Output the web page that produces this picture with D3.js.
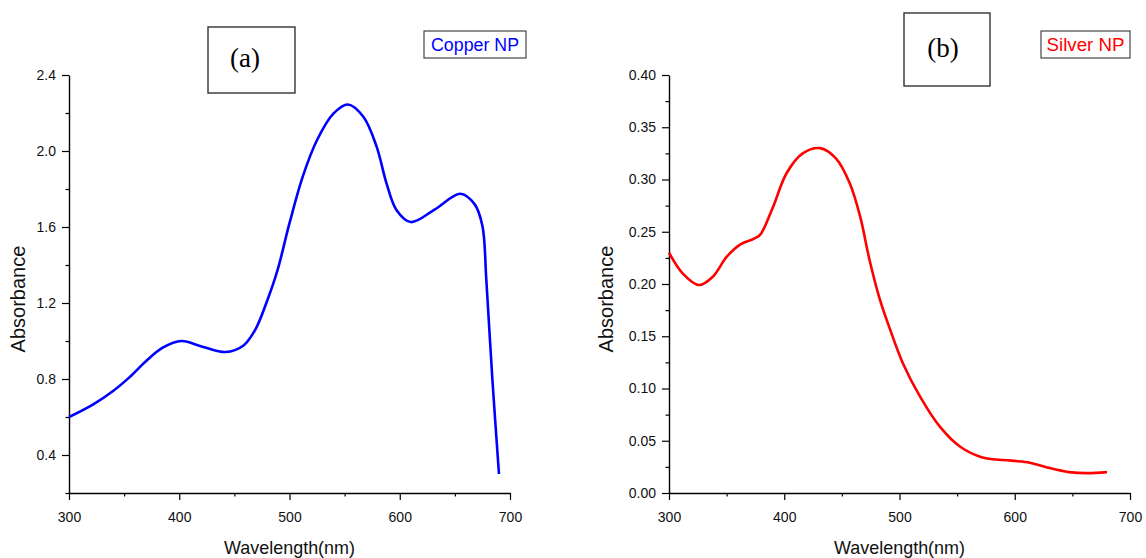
<!DOCTYPE html>
<html lang="en">
<head>
  <title>UV-vis absorbance</title>
  <script type="text/javascript" src="https://cdn.jsdelivr.net/npm/d3@7"></script>
  <style>
    body {
      margin: 0px;
      background: white;
    }
    svg {
      display: block;
      font-family: Arial, "Liberation Sans", sans-serif;
    }
  </style>
</head>
<body>
  <script type="text/javascript">
    // Data
    var cuWavelength = [300, 322, 340, 355, 370, 385, 402, 421, 442, 458, 469, 479, 489, 500, 512, 525, 540, 553, 567, 579, 588, 597, 610, 632, 655, 668, 675, 678.5, 684, 690];
    var cuAbsorbance = [0.60, 0.667, 0.737, 0.81, 0.895, 0.965, 1.00, 0.97, 0.942, 0.975, 1.06, 1.20, 1.37, 1.62, 1.865, 2.058, 2.198, 2.245, 2.18, 2.023, 1.83, 1.69, 1.626, 1.693, 1.775, 1.719, 1.605, 1.325, 0.80, 0.30];

    var agWavelength = [300, 312, 326, 338, 350, 362, 373, 379, 390, 402, 416, 431, 445, 457, 466, 474, 483, 492, 503, 518, 535, 553, 572, 597, 613, 628, 647, 663, 680];
    var agAbsorbance = [0.230, 0.210, 0.199, 0.207, 0.226, 0.238, 0.243, 0.247, 0.273, 0.306, 0.325, 0.330, 0.320, 0.296, 0.264, 0.223, 0.185, 0.156, 0.124, 0.092, 0.0635, 0.044, 0.034, 0.031, 0.029, 0.0245, 0.020, 0.019, 0.020];

    var cuTicks = [0.4, 0.8, 1.2, 1.6, 2.0, 2.4];
    var agTicks = [0.00, 0.05, 0.10, 0.15, 0.20, 0.25, 0.30, 0.35, 0.40];

    var width = 1146;
    var height = 558;

    var svg = d3.select("body").append("svg")
      .attr("width", width)
      .attr("height", height);

    svg.append("rect")
      .attr("width", width)
      .attr("height", height)
      .attr("fill", "white");

    var panels = [
      {
        wl: cuWavelength, ab: cuAbsorbance, color: "#0000ff",
        left: 69, right: 510, top: 75, bottom: 493,
        yDomain: [0.2, 2.4], yTicks: cuTicks, yMinor: d3.range(0.2, 2.41, 0.2), fmt: d3.format(".1f"),
        tag: "(a)", tagBox: [208, 27, 87, 66], tagX: 245, tagY: 67,
        legend: "Copper NP", legBox: [424, 31, 102, 27], legLen: 88,
        yLabelX: 25
      },
      {
        wl: agWavelength, ab: agAbsorbance, color: "#ff0000",
        left: 669, right: 1130, top: 75, bottom: 493,
        yDomain: [0, 0.4], yTicks: agTicks, yMinor: d3.range(0, 0.401, 0.025), fmt: d3.format(".2f"),
        tag: "(b)", tagBox: [904, 13, 86, 73], tagX: 943, tagY: 57,
        legend: "Silver NP", legBox: [1041, 31, 89, 27], legLen: 78,
        yLabelX: 613
      }
    ];

    panels.forEach(function(p) {
      var x = d3.scaleLinear().domain([300, 700]).range([p.left, p.right]);
      var y = d3.scaleLinear().domain(p.yDomain).range([p.bottom, p.top]);

      // x axis: minor ticks every 50, labels every 100
      var gx = svg.append("g").attr("transform", "translate(0," + p.bottom + ")");
      gx.call(d3.axisBottom(x).tickValues(d3.range(300, 701, 50)).tickSize(7).tickSizeOuter(0)
        .tickFormat(function(d) { return d % 100 === 0 ? d : ""; }));
      gx.selectAll(".tick line").attr("y2", function(d) { return d % 100 === 0 ? 7 : 3.5; }).attr("stroke-width", 1.2);
      gx.selectAll("text").attr("font-size", 14).attr("fill", "#111").attr("y", 19).attr("font-family", null);
      gx.select(".domain").attr("stroke", "#000").attr("stroke-width", 1.4);

      // y axis
      var isMajor = function(d) {
        return p.yTicks.some(function(t) { return Math.abs(t - d) < 1e-6; });
      };
      var gy = svg.append("g").attr("transform", "translate(" + p.left + ",0)");
      gy.call(d3.axisLeft(y).tickValues(p.yMinor).tickSize(7).tickSizeOuter(0)
        .tickFormat(function(d) { return isMajor(d) ? p.fmt(d) : ""; }));
      gy.selectAll(".tick line").attr("x2", function(d) { return isMajor(d) ? -7 : -3.5; }).attr("stroke-width", 1.2);
      gy.selectAll("text").attr("font-size", 14).attr("fill", "#111").attr("x", -13).attr("font-family", null);
      gy.select(".domain").attr("stroke", "#000").attr("stroke-width", 1.4);

      // curve
      var pts = p.wl.map(function(w, i) { return [w, p.ab[i]]; });
      svg.append("path")
        .datum(pts)
        .attr("fill", "none")
        .attr("stroke", p.color)
        .attr("stroke-width", 2.6)
        .attr("stroke-linejoin", "round")
        .attr("d", d3.line()
          .x(function(d) { return x(d[0]); })
          .y(function(d) { return y(d[1]); })
          .curve(d3.curveCatmullRom.alpha(0.5)));

      // axis titles
      svg.append("text")
        .attr("x", (p.left + p.right) / 2)
        .attr("y", 554)
        .attr("text-anchor", "middle")
        .attr("font-size", 19)
        .attr("textLength", 131)
        .attr("lengthAdjust", "spacingAndGlyphs")
        .attr("fill", "#111")
        .text("Wavelength(nm)");

      svg.append("text")
        .attr("transform", "translate(" + p.yLabelX + "," + 299 + ") rotate(-90)")
        .attr("text-anchor", "middle")
        .attr("font-size", 20)
        .attr("fill", "#111")
        .text("Absorbance");

      // panel tag box
      svg.append("rect")
        .attr("x", p.tagBox[0]).attr("y", p.tagBox[1])
        .attr("width", p.tagBox[2]).attr("height", p.tagBox[3])
        .attr("fill", "none").attr("stroke", "#222").attr("stroke-width", 1.3);
      svg.append("text")
        .attr("x", p.tagX)
        .attr("y", p.tagY)
        .attr("text-anchor", "middle")
        .attr("font-family", "'Liberation Serif', 'Times New Roman', serif")
        .attr("font-size", 27)
        .attr("fill", "#000")
        .text(p.tag);

      // legend box
      svg.append("rect")
        .attr("x", p.legBox[0]).attr("y", p.legBox[1])
        .attr("width", p.legBox[2]).attr("height", p.legBox[3])
        .attr("fill", "none").attr("stroke", "#333").attr("stroke-width", 1.1);
      svg.append("text")
        .attr("x", p.legBox[0] + p.legBox[2] / 2)
        .attr("y", p.legBox[1] + 20)
        .attr("text-anchor", "middle")
        .attr("font-size", 18)
        .attr("textLength", p.legLen)
        .attr("lengthAdjust", "spacingAndGlyphs")
        .attr("fill", p.color)
        .text(p.legend);
    });
  </script>
</body>
</html>
